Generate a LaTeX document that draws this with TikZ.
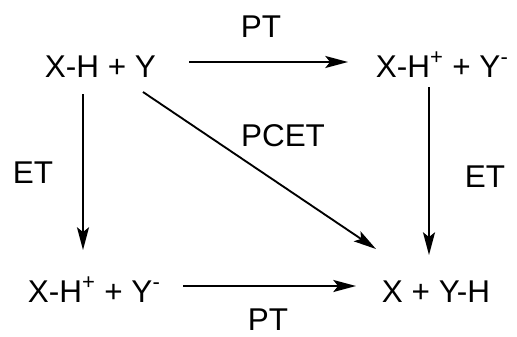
\documentclass[tikz,border=0pt]{standalone}
\usepackage{fontspec}
\setmainfont{Liberation Sans}
\usetikzlibrary{arrows.meta,calc}
\begin{document}
\begin{tikzpicture}[x=0.75pt,y=0.75pt,line width=1.4pt,
    >={Stealth[length=17pt,width=9pt,inset=3.5pt]},
    font=\fontsize{23.6}{28}\selectfont,
    every node/.style={inner sep=0pt}]
  \useasboundingbox (0,0) rectangle (517,-336);
  % species
  \node[anchor=base west] (xhy)   at (44,-77)  {X-H + Y};
  \node[anchor=base west] (ionsT) at (375,-77) {X-H\textsuperscript{+} + Y\textsuperscript{-}};
  \node[anchor=base west] (ionsB) at (27,-302) {X-H\textsuperscript{+} + Y\textsuperscript{-}};
  \node[anchor=base west] (xyh)   at (381,-302) {X + Y-H};
  % steps
  \draw[->] ($(xhy.base west)+(145,15)$) -- ($(ionsT.base west)+(-27,15)$);
  \draw[->] ($(ionsB.base west)+(156,16)$) -- ($(xyh.base west)+(-25,16)$);
  \draw[->] ($(xhy.base west)+(39,-17)$) -- ($(ionsB.base west)+(56,52)$);
  \draw[->] ($(ionsT.base west)+(54,-10)$) -- ($(xyh.base west)+(48,47)$);
  \draw[->] ($(xhy.base west)+(99,-15)$) -- ($(xyh.base west)+(-5,53)$);
  \node[anchor=base] (ptT)  at (261,-37)  {PT};
  \node[anchor=base] (ptB)  at (268,-330) {PT};
  \node[anchor=base] (pcet) at (283,-146) {PCET};
  \node[anchor=base] (etL)  at (33,-183)  {ET};
  \node[anchor=base] (etR)  at (485,-187) {ET};
\end{tikzpicture}
\end{document}
